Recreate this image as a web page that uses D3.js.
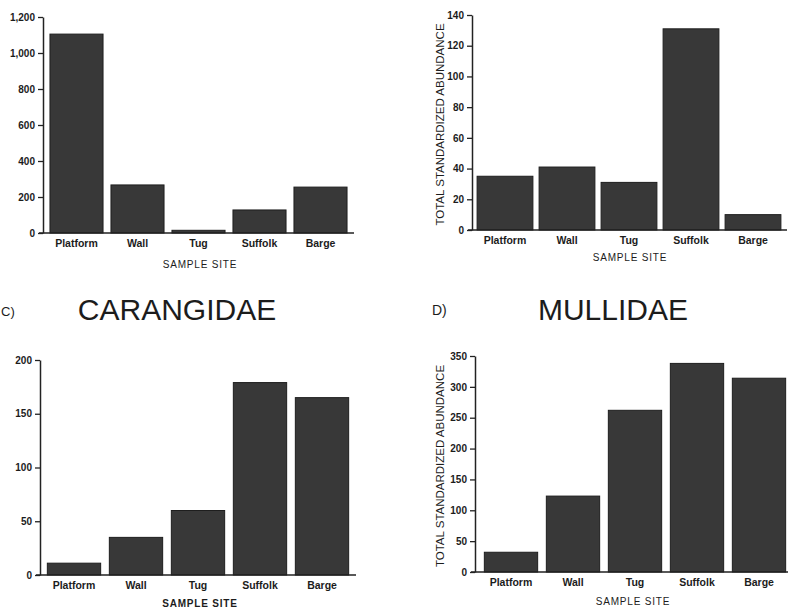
<!DOCTYPE html>
<html>
<head>
  <meta charset="utf-8">
  <title>Sample site abundance</title>
  <script src="https://d3js.org/d3.v7.min.js"></script>
  <style>
    body { margin: 0; background: #fff; }
    text { font-family: "Liberation Sans", Arial, sans-serif; fill: #1c1c1c; }
  </style>
</head>
<body>
  <script>
    const sites = ["Platform", "Wall", "Tug", "Suffolk", "Barge"];
    const valuesA = [1105, 267, 15, 128, 255];
    const valuesB = [35, 41, 31, 131, 10];
    const valuesC = [11, 35, 60, 179, 165];
    const valuesD = [32, 123, 262, 338, 314];
    const ticksA = [0, 200, 400, 600, 800, 1000, 1200];
    const ticksB = [0, 20, 40, 60, 80, 100, 120, 140];
    const ticksC = [0, 50, 100, 150, 200];
    const ticksD = [0, 50, 100, 150, 200, 250, 300, 350];
    const yTitle = "TOTAL STANDARDIZED ABUNDANCE";
    const xTitle = "SAMPLE SITE";

    const width = 788, height = 610;
    const svg = d3.select("body").append("svg")
      .attr("width", width)
      .attr("height", height);

    // one panel = axis position, band range, vertical extent
    function panel(vals, ticks, p) {
      const x = d3.scaleBand()
        .domain(sites)
        .range([p.x0, p.x1])
        .paddingInner(p.pin)
        .paddingOuter(p.pin / 2);
      const y = d3.scaleLinear()
        .domain([0, d3.max(ticks)])
        .range([p.base, p.top]);

      const g = svg.append("g");

      g.selectAll("rect")
        .data(vals)
        .enter()
        .append("rect")
        .attr("x", (d, i) => x(sites[i]))
        .attr("y", d => y(d))
        .attr("width", x.bandwidth())
        .attr("height", d => y(0) - y(d))
        .attr("fill", "#383838")
        .attr("stroke", "#1e1e1e")
        .attr("stroke-width", 1);

      // baseline
      g.append("line")
        .attr("x1", p.ax - 4).attr("x2", p.x1 + 3)
        .attr("y1", y(0)).attr("y2", y(0))
        .attr("stroke", "#222").attr("stroke-width", 1.5);

      const yAxis = d3.axisLeft(y)
        .tickValues(ticks)
        .tickSize(5)
        .tickSizeOuter(0)
        .tickPadding(3)
        .tickFormat(d3.format(","));
      const ya = g.append("g")
        .attr("transform", `translate(${p.ax},0)`)
        .call(yAxis);
      ya.select(".domain").attr("stroke", "#222").attr("stroke-width", 1.5);
      ya.selectAll(".tick line").attr("stroke", "#222").attr("stroke-width", 1.3);
      ya.selectAll(".tick text")
        .attr("font-size", 10)
        .attr("font-weight", "bold")
        .attr("fill", "#222");

      const xAxis = d3.axisBottom(x).tickSize(0).tickPadding(7);
      const xa = g.append("g")
        .attr("transform", `translate(0,${y(0)})`)
        .call(xAxis);
      xa.select(".domain").remove();
      xa.selectAll(".tick text")
        .attr("font-size", 10.5)
        .attr("font-weight", "bold")
        .attr("fill", "#222");

      g.append("text")
        .attr("x", p.xtx)
        .attr("y", p.xty)
        .attr("text-anchor", "middle")
        .attr("font-size", 10)
        .attr("letter-spacing", 0.8)
        .attr("font-weight", p.boldTitle ? "bold" : "normal")
        .text(xTitle);

      if (p.ylab) {
        g.append("text")
          .attr("transform", `translate(${p.ylx},${(p.top + p.base) / 2 + 2}) rotate(-90)`)
          .attr("text-anchor", "middle")
          .attr("font-size", 11.5)
          .text(yTitle);
      }
      return g;
    }

    panel(valuesA, ticksA, { ax: 43, x0: 46, x1: 351, pin: 0.13, top: 17, base: 233, xtx: 200, xty: 268 });
    panel(valuesB, ticksB, { ax: 472, x0: 474, x1: 784, pin: 0.1, top: 15, base: 230, xtx: 630, xty: 261, ylab: true, ylx: 444 });
    panel(valuesC, ticksC, { ax: 40, x0: 43, x1: 353, pin: 0.14, top: 360, base: 575, xtx: 200, xty: 607, boldTitle: true });
    panel(valuesD, ticksD, { ax: 475, x0: 480, x1: 790, pin: 0.14, top: 356, base: 572, xtx: 633, xty: 605, ylab: true, ylx: 444 });

    // panel titles
    svg.append("text").attr("x", 1).attr("y", 316)
      .attr("font-size", 13).text("C)");
    svg.append("text").attr("x", 177).attr("y", 320).attr("text-anchor", "middle")
      .attr("font-size", 30).text("CARANGIDAE");
    svg.append("text").attr("x", 432).attr("y", 315)
      .attr("font-size", 14).text("D)");
    svg.append("text").attr("x", 613).attr("y", 320).attr("text-anchor", "middle")
      .attr("font-size", 30).text("MULLIDAE");
  </script>
</body>
</html>
